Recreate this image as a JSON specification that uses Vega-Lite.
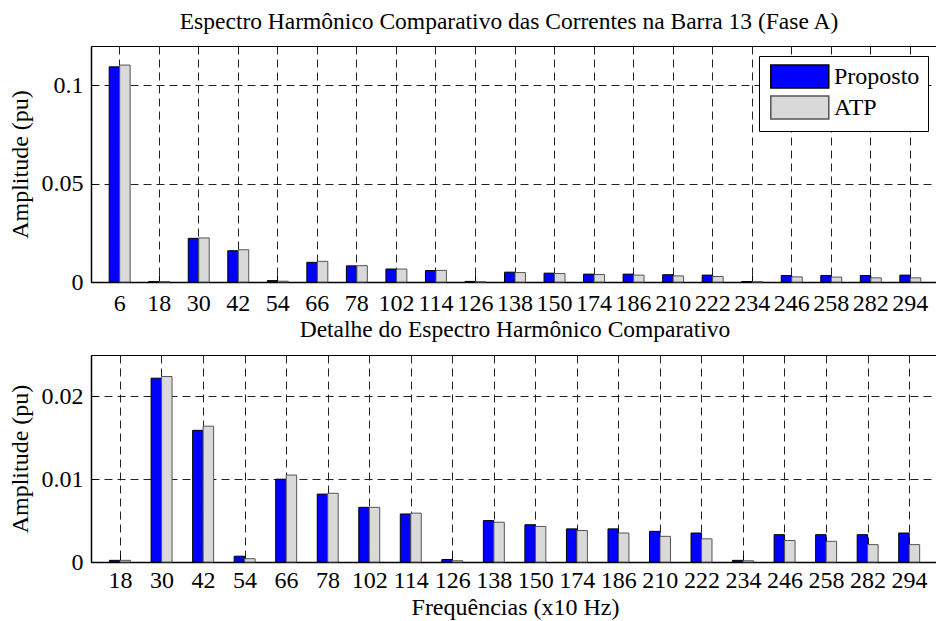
{
  "$schema": "https://vega.github.io/schema/vega-lite/v6.json",
  "background": "white",
  "padding": {"left": 7, "top": 9, "right": 0, "bottom": 0},
  "bounds": "flush",
  "spacing": 73,
  "config": {
    "font": "Liberation Serif",
    "view": {"stroke": "black", "strokeWidth": 1},
    "axis": {
      "labelFont": "Liberation Serif",
      "labelFontSize": 24,
      "labelColor": "black",
      "titleFont": "Liberation Serif",
      "titleFontSize": 24,
      "titleFontWeight": "normal",
      "titleColor": "black",
      "domainColor": "black",
      "domainWidth": 1.5,
      "tickColor": "black",
      "tickSize": -7,
      "gridColor": "#222222",
      "gridDash": [8, 5],
      "gridWidth": 1,
      "gridOpacity": 1
    },
    "title": {"font": "Liberation Serif", "fontSize": 23.5, "fontWeight": "normal", "color": "black", "offset": 12.5}
  },
  "resolve": {"scale": {"color": "independent", "stroke": "independent"}},
  "datasets": {
    "h": [
      {"f": 6, "serie": "Proposto", "v": 0.1094}, {"f": 6, "serie": "ATP", "v": 0.1103},
      {"f": 18, "serie": "Proposto", "v": 0.0002}, {"f": 18, "serie": "ATP", "v": 0.0002},
      {"f": 30, "serie": "Proposto", "v": 0.0222}, {"f": 30, "serie": "ATP", "v": 0.0224},
      {"f": 42, "serie": "Proposto", "v": 0.0159}, {"f": 42, "serie": "ATP", "v": 0.0164},
      {"f": 54, "serie": "Proposto", "v": 0.0007}, {"f": 54, "serie": "ATP", "v": 0.0004},
      {"f": 66, "serie": "Proposto", "v": 0.0100}, {"f": 66, "serie": "ATP", "v": 0.0105},
      {"f": 78, "serie": "Proposto", "v": 0.0082}, {"f": 78, "serie": "ATP", "v": 0.0083},
      {"f": 102, "serie": "Proposto", "v": 0.0066}, {"f": 102, "serie": "ATP", "v": 0.0066},
      {"f": 114, "serie": "Proposto", "v": 0.0058}, {"f": 114, "serie": "ATP", "v": 0.0059},
      {"f": 126, "serie": "Proposto", "v": 0.0003}, {"f": 126, "serie": "ATP", "v": 0.00015},
      {"f": 138, "serie": "Proposto", "v": 0.0050}, {"f": 138, "serie": "ATP", "v": 0.0048},
      {"f": 150, "serie": "Proposto", "v": 0.0045}, {"f": 150, "serie": "ATP", "v": 0.0043},
      {"f": 174, "serie": "Proposto", "v": 0.0040}, {"f": 174, "serie": "ATP", "v": 0.0038},
      {"f": 186, "serie": "Proposto", "v": 0.0040}, {"f": 186, "serie": "ATP", "v": 0.0035},
      {"f": 210, "serie": "Proposto", "v": 0.0037}, {"f": 210, "serie": "ATP", "v": 0.0031},
      {"f": 222, "serie": "Proposto", "v": 0.0035}, {"f": 222, "serie": "ATP", "v": 0.0028},
      {"f": 234, "serie": "Proposto", "v": 0.0002}, {"f": 234, "serie": "ATP", "v": 0.00015},
      {"f": 246, "serie": "Proposto", "v": 0.0033}, {"f": 246, "serie": "ATP", "v": 0.0026},
      {"f": 258, "serie": "Proposto", "v": 0.0033}, {"f": 258, "serie": "ATP", "v": 0.0025},
      {"f": 282, "serie": "Proposto", "v": 0.0033}, {"f": 282, "serie": "ATP", "v": 0.0021},
      {"f": 294, "serie": "Proposto", "v": 0.0035}, {"f": 294, "serie": "ATP", "v": 0.0021}
    ]
  },
  "vconcat": [
    {
      "width": 848,
      "height": 236,
      "title": {"text": "Espectro Harmônico Comparativo das Correntes na Barra 13 (Fase A)", "dx": -6},
      "data": {"name": "h"},
      "mark": {"type": "bar", "strokeWidth": 1},
      "encoding": {
        "x": {
          "field": "f", "type": "ordinal",
          "scale": {"paddingInner": 0.47, "paddingOuter": 0.46},
          "axis": {"title": null, "labelAngle": 0, "grid": true, "labelPadding": 16}
        },
        "xOffset": {"field": "serie", "sort": ["Proposto", "ATP"], "scale": {"paddingInner": 0, "paddingOuter": 0}},
        "y": {
          "field": "v", "type": "quantitative",
          "scale": {"domain": [0, 0.12], "nice": false},
          "axis": {"title": "Amplitude (pu)", "values": [0, 0.05, 0.1], "format": "~g", "grid": true, "labelPadding": 15, "titlePadding": 9}
        },
        "color": {
          "field": "serie", "type": "nominal", "sort": ["Proposto", "ATP"],
          "scale": {"domain": ["Proposto", "ATP"], "range": ["#0000ff", "#d9d9d9"]},
          "legend": {
            "orient": "none", "legendX": 668, "legendY": 10, "title": null,
            "symbolType": "M-0.75,-1H4.25V1H-0.75Z", "symbolSize": 538,
            "labelFont": "Liberation Serif", "labelFontSize": 24, "labelColor": "black",
            "strokeColor": "black", "fillColor": "white", "padding": 8,
            "rowPadding": 0, "labelOffset": 42, "symbolOpacity": 1
          }
        },
        "stroke": {
          "field": "serie", "type": "nominal", "sort": ["Proposto", "ATP"],
          "scale": {"domain": ["Proposto", "ATP"], "range": ["#000000", "#555555"]},
          "legend": {
            "orient": "none", "legendX": 668, "legendY": 10, "title": null,
            "symbolType": "M-0.75,-1H4.25V1H-0.75Z", "symbolSize": 538,
            "labelFont": "Liberation Serif", "labelFontSize": 24, "labelColor": "black",
            "strokeColor": "black", "fillColor": "white", "padding": 8,
            "rowPadding": 0, "labelOffset": 42, "symbolOpacity": 1
          }
        }
      }
    },
    {
      "width": 848,
      "height": 207,
      "title": {"text": "Detalhe do Espectro Harmônico Comparativo", "offset": 13.5},
      "data": {"name": "h"},
      "transform": [{"filter": "datum.f != 6"}],
      "mark": {"type": "bar", "strokeWidth": 1},
      "encoding": {
        "x": {
          "field": "f", "type": "ordinal",
          "scale": {"paddingInner": 0.477, "paddingOuter": 0.447},
          "axis": {"title": "Frequências (x10 Hz)", "labelAngle": 0, "grid": true, "labelPadding": 13, "titlePadding": 3}
        },
        "xOffset": {"field": "serie", "sort": ["Proposto", "ATP"], "scale": {"paddingInner": 0, "paddingOuter": 0}},
        "y": {
          "field": "v", "type": "quantitative",
          "scale": {"domain": [0, 0.025], "nice": false},
          "axis": {"title": "Amplitude (pu)", "values": [0, 0.01, 0.02], "format": "~g", "grid": true, "labelPadding": 15, "titlePadding": 9}
        },
        "color": {
          "field": "serie", "type": "nominal", "sort": ["Proposto", "ATP"],
          "scale": {"domain": ["Proposto", "ATP"], "range": ["#0000ff", "#d9d9d9"]},
          "legend": null
        },
        "stroke": {
          "field": "serie", "type": "nominal", "sort": ["Proposto", "ATP"],
          "scale": {"domain": ["Proposto", "ATP"], "range": ["#000000", "#555555"]},
          "legend": null
        }
      }
    }
  ]
}
